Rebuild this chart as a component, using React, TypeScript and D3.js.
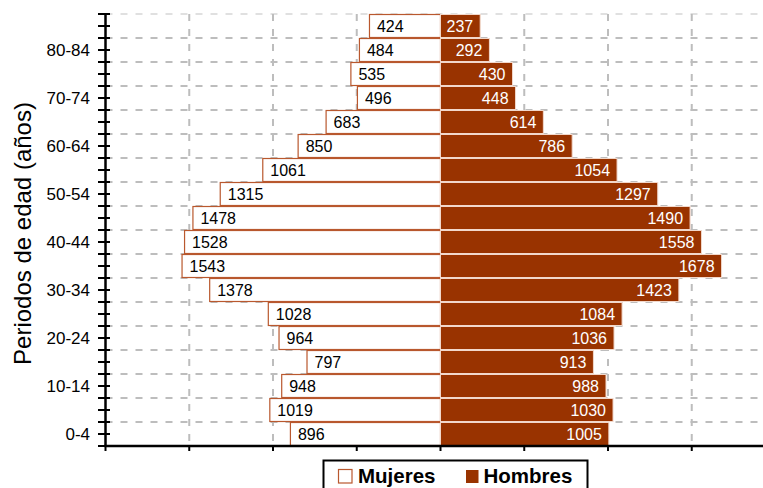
import React from "react";
import * as d3 from "d3";

const ageGroups = [
  "0-4", "5-9", "10-14", "15-19", "20-24", "25-29", "30-34", "35-39", "40-44",
  "45-49", "50-54", "55-59", "60-64", "65-69", "70-74", "75-79", "80-84", "85+",
];
const mujeres = [896, 1019, 948, 797, 964, 1028, 1378, 1543, 1528, 1478, 1315, 1061, 850, 683, 496, 535, 484, 424];
const hombres = [1005, 1030, 988, 913, 1036, 1084, 1423, 1678, 1558, 1490, 1297, 1054, 786, 614, 448, 430, 292, 237];
const shownLabels = ["0-4", "10-14", "20-24", "30-34", "40-44", "50-54", "60-64", "70-74", "80-84"];
const xTicks = [-2000, -1500, -1000, -500, 0, 500, 1000, 1500, 2000];
const seriesNames = ["Mujeres", "Hombres"];

const W = 763;
const H = 488;
const FONT = "'Liberation Sans', Arial, sans-serif";
const MALE = "#993300";
const FEMALE_STROKE = "#b9582e";
const GRID = "#bdbdbd";

export default function App() {
  const x = d3.scaleLinear().domain([-2000, 2000]).range([105.5, 775.5]);
  const y = d3.scaleBand<string>().domain([...ageGroups].reverse()).range([14, 446]).padding(0);
  const bw = y.bandwidth();
  const axisX = 105.5;
  const axisY = 446;
  const boundaries = d3.range(ageGroups.length + 1).map((i) => 14 + i * bw);
  const minor = d3.range(ageGroups.length).map((i) => 14 + i * bw + bw / 2);

  return (
    <svg width={W} height={H} style={{ position: "absolute", left: 0, top: 0, background: "#fff" }} fontFamily={FONT}>
      {/* horizontal grid */}
      {boundaries.slice(0, -1).map((b, i) => (
        <line key={"hg" + i} x1={axisX} x2={W} y1={b} y2={b}
          stroke={i === 0 ? "#d6d6d6" : GRID} strokeWidth={i === 0 ? 1.5 : 2} strokeDasharray="7,8" />
      ))}
      {/* vertical grid */}
      {xTicks.filter((t) => t !== -2000).map((t) => (
        <line key={"vg" + t} x1={x(t)} x2={x(t)} y1={14} y2={axisY}
          stroke={GRID} strokeWidth={2} strokeDasharray="7,8" />
      ))}
      {/* bars */}
      {ageGroups.map((g, i) => {
        const yy = y(g)!;
        return (
          <g key={g}>
            <rect x={x(-mujeres[i])} y={yy + 0.5} width={x(0) - x(-mujeres[i])} height={bw - 1}
              fill="#fff" stroke={FEMALE_STROKE} strokeWidth={1.2} />
            <rect x={x(0)} y={yy + 0.5} width={x(hombres[i]) - x(0)} height={bw - 1}
              fill={MALE} stroke="#f2d8cb" strokeWidth={1} />
            <text x={x(-mujeres[i]) + 7.5} y={yy + bw / 2} dy="0.36em" fontSize={16} fill="#000">{mujeres[i]}</text>
            <text x={x(hombres[i]) - 7} y={yy + bw / 2} dy="0.36em" fontSize={16} fill="#fff" textAnchor="end">{hombres[i]}</text>
          </g>
        );
      })}
      {/* y axis */}
      <line x1={axisX} x2={axisX} y1={14} y2={axisY + 1} stroke="#000" strokeWidth={2.5} />
      {boundaries.concat(minor).map((b, i) => (
        <line key={"yt" + i} x1={98} x2={110} y1={b} y2={b} stroke="#000" strokeWidth={2} />
      ))}
      {shownLabels.map((l) => (
        <text key={"yl" + l} x={90} y={y(l)! + bw / 2} dy="0.36em" textAnchor="end" fontSize={17} fill="#000">{l}</text>
      ))}
      {/* x axis */}
      <line x1={axisX - 1} x2={W} y1={axisY} y2={axisY} stroke="#000" strokeWidth={2.5} />
      {xTicks.map((t) => (
        <line key={"xt" + t} x1={x(t)} x2={x(t)} y1={axisY} y2={axisY + 5} stroke="#000" strokeWidth={2} />
      ))}
      {/* y title */}
      <text transform="translate(30.5,233.5) rotate(-90)" textAnchor="middle" fontSize={24} fill="#000">
        Periodos de edad (años)
      </text>
      {/* legend */}
      <rect x={323.5} y={460.5} width={264} height={40} fill="#fff" stroke="#000" strokeWidth={2} />
      <rect x={338.5} y={469.5} width={13.5} height={13.5} fill="#fff" stroke={FEMALE_STROKE} strokeWidth={1.2} />
      <text x={358} y={483} fontSize={20.5} fontWeight="bold" fill="#000">{seriesNames[0]}</text>
      <rect x={466} y={470} width={12.5} height={13} fill={MALE} />
      <text x={483.5} y={483} fontSize={20.5} fontWeight="bold" fill="#000">{seriesNames[1]}</text>
    </svg>
  );
}
